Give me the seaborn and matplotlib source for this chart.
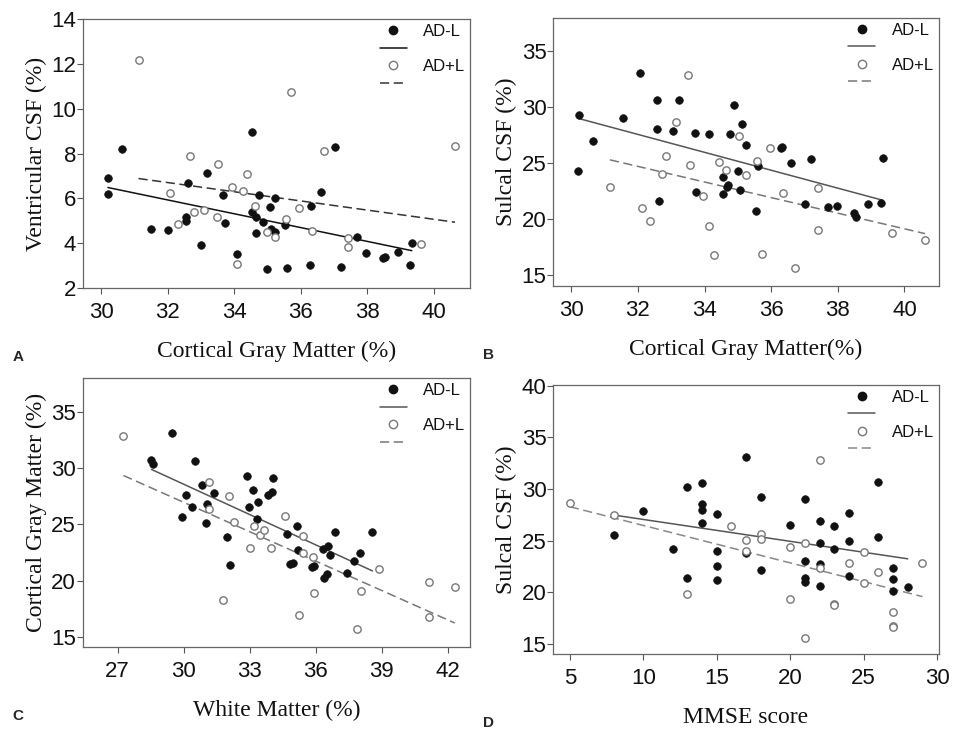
import seaborn as sns
import matplotlib.pyplot as plt
import matplotlib.lines as mlines
import pandas as pd
import numpy as np

# panel A: cortical gray matter vs ventricular CSF
a_neg_x = [30.2, 30.2, 30.63, 31.5, 32.02, 32.54, 32.54, 32.61, 33.0, 33.18, 33.66, 33.71, 34.09,
           34.53, 34.53, 34.64, 34.66, 34.74, 34.87, 34.99, 35.06, 35.11, 35.24, 35.24, 35.54, 35.58,
           36.28, 36.32, 36.6, 37.03, 37.2, 37.7, 37.97, 38.48, 38.53, 38.91, 39.28, 39.34]
a_neg_y = [6.89, 6.19, 8.2, 4.65, 4.57, 5.19, 5.0, 6.68, 3.9, 7.13, 6.13, 4.89, 3.52,
           8.96, 5.41, 5.16, 4.45, 6.16, 4.94, 2.85, 5.61, 4.65, 6.01, 4.49, 4.8, 2.91,
           3.02, 5.67, 6.28, 8.3, 2.94, 4.27, 3.54, 3.33, 3.39, 3.6, 3.02, 3.99]
a_pos_x = [31.12, 32.08, 32.31, 32.67, 32.8, 33.1, 33.47, 33.51, 33.92, 34.09, 34.25, 34.39,
           34.63, 34.99, 35.23, 35.56, 35.72, 35.94, 36.33, 36.71, 37.41, 37.43, 39.62, 40.64]
a_pos_y = [12.18, 6.26, 4.85, 7.87, 5.4, 5.5, 5.19, 7.51, 6.49, 3.09, 6.34, 7.08,
           5.67, 4.49, 4.27, 5.09, 10.73, 5.59, 4.55, 8.09, 4.24, 3.81, 3.97, 8.32]

# panel B: cortical gray matter vs sulcal CSF
b_neg_x = [30.22, 30.21, 30.66, 31.54, 32.07, 32.57, 32.57, 32.64, 33.04, 33.24, 33.71, 33.75,
           34.12, 34.54, 34.55, 34.66, 34.69, 34.75, 34.89, 35.0, 35.06, 35.12, 35.25, 35.53,
           35.59, 36.28, 36.33, 36.6, 37.03, 37.21, 37.7, 37.97, 38.48, 38.54, 38.92, 39.3, 39.35]
b_neg_y = [29.24, 24.25, 26.94, 29.03, 33.03, 30.61, 27.99, 21.6, 27.84, 30.64, 27.69, 22.37,
           27.6, 23.75, 22.19, 22.85, 23.03, 27.54, 30.22, 24.25, 22.61, 28.49, 26.64, 20.67,
           24.7, 26.37, 26.43, 25.0, 21.33, 25.36, 21.03, 21.18, 20.49, 20.16, 21.3, 21.39, 25.45]
b_pos_x = [31.16, 32.12, 32.35, 32.71, 32.84, 33.15, 33.51, 33.55, 33.95, 34.13, 34.28, 34.42,
           34.65, 35.02, 35.24, 35.57, 35.71, 35.95, 36.34, 36.72, 37.4, 37.42, 39.63, 40.62]
b_pos_y = [22.82, 20.94, 19.84, 23.99, 25.63, 28.64, 32.82, 24.79, 22.01, 19.39, 16.73, 25.06,
           24.37, 27.42, 23.9, 25.18, 16.85, 26.31, 22.34, 15.6, 22.79, 18.97, 18.76, 18.1]

# panel C: white matter vs cortical gray matter
c_neg_x = [28.53, 28.59, 29.47, 29.91, 30.12, 30.39, 30.53, 30.85, 31.02, 31.08, 31.38, 31.97,
           32.11, 32.89, 32.97, 33.14, 33.32, 33.36, 33.83, 34.02, 34.06, 34.7, 34.85, 34.95,
           35.17, 35.21, 35.83, 35.91, 36.33, 36.38, 36.52, 36.56, 36.65, 36.88, 37.44, 37.73,
           38.03, 38.58]
c_neg_y = [30.7, 30.32, 33.07, 25.61, 27.56, 26.56, 30.64, 28.51, 25.07, 26.79, 27.8, 23.83,
           21.4, 29.28, 26.5, 28.07, 25.46, 27.0, 27.62, 27.89, 29.1, 24.13, 21.46, 21.52,
           24.84, 22.7, 21.19, 21.28, 22.82, 20.19, 20.54, 23.09, 22.26, 24.33, 20.69, 21.7,
           22.47, 24.3]
c_pos_x = [27.26, 31.17, 31.14, 31.77, 32.06, 32.29, 33.03, 33.18, 33.47, 33.65, 33.95, 34.59,
           35.24, 35.41, 35.41, 35.86, 35.94, 37.89, 38.08, 38.88, 41.14, 41.14, 42.32]
c_pos_y = [32.87, 28.72, 26.38, 18.23, 27.5, 25.22, 22.91, 24.87, 24.04, 24.48, 22.91, 25.73,
           16.9, 23.95, 22.47, 22.11, 18.85, 15.65, 19.06, 21.01, 19.86, 16.72, 19.39]

# panel D: MMSE vs sulcal CSF
d_neg_x = [8, 10, 12, 13, 13, 14, 14, 14, 14, 15, 15, 15, 15, 17, 17, 18, 18, 20, 21, 21, 21, 21,
           22, 22, 22, 22, 23, 23, 24, 24, 24, 26, 26, 27, 27, 27, 28]
d_neg_y = [25.58, 27.84, 24.23, 30.23, 21.42, 30.61, 28.55, 28.0, 26.68, 27.61, 24.0, 22.58, 21.23,
           33.06, 23.77, 29.26, 22.16, 26.48, 29.03, 23.0, 21.35, 21.03, 26.94, 24.74, 22.74, 20.61,
           26.45, 24.23, 27.71, 25.0, 21.58, 30.65, 25.39, 22.35, 21.29, 20.13, 20.48]
d_pos_x = [5, 8, 13, 16, 17, 17, 18, 18, 20, 20, 21, 21, 22, 22, 23, 23, 24, 25, 25, 26, 27, 27, 27, 29]
d_pos_y = [28.68, 27.48, 19.81, 26.39, 25.1, 24.0, 25.65, 25.16, 24.35, 19.35, 24.81, 15.61,
           32.84, 22.32, 18.87, 18.77, 22.81, 23.87, 20.9, 21.97, 18.13, 16.74, 16.65, 22.81]

sns.set_style("ticks")
plt.rcParams['font.family'] = ['Liberation Sans', 'DejaVu Sans']

fig = plt.figure(figsize=(9.54, 7.31), dpi=100)

panels = [
    dict(letter="A", rect=[0.087, 0.606, 0.406, 0.368], xlim=(29.45, 41.1), ylim=(2, 14),
         xticks=np.arange(30, 41, 2), yticks=np.arange(2, 15, 2),
         xlabel="Cortical Gray Matter (%)", ylabel="Ventricular CSF (%)",
         data=(a_neg_x, a_neg_y, a_pos_x, a_pos_y), lc=("#111111", "#333333")),
    dict(letter="B", rect=[0.580, 0.609, 0.404, 0.367], xlim=(29.46, 41.03), ylim=(14, 38),
         xticks=np.arange(30, 41, 2), yticks=np.arange(15, 36, 5),
         xlabel="Cortical Gray Matter(%)", ylabel="Sulcal CSF (%)",
         data=(b_neg_x, b_neg_y, b_pos_x, b_pos_y), lc=("#555555", "#777777")),
    dict(letter="C", rect=[0.087, 0.115, 0.406, 0.368], xlim=(25.42, 43.03), ylim=(14.1, 38),
         xticks=np.arange(27, 43, 3), yticks=np.arange(15, 36, 5),
         xlabel="White Matter (%)", ylabel="Cortical Gray Matter (%)",
         data=(c_neg_x, c_neg_y, c_pos_x, c_pos_y), lc=("#555555", "#777777")),
    dict(letter="D", rect=[0.580, 0.105, 0.404, 0.369], xlim=(3.87, 30.11), ylim=(14, 40.1),
         xticks=np.arange(5, 31, 5), yticks=np.arange(15, 41, 5),
         xlabel="MMSE score", ylabel="Sulcal CSF (%)",
         data=(d_neg_x, d_neg_y, d_pos_x, d_pos_y), lc=("#555555", "#888888")),
]

for p in panels:
    ax = fig.add_axes(p["rect"])
    nx, ny, px, py = p["data"]
    neg = pd.DataFrame({"x": nx, "y": ny})
    pos = pd.DataFrame({"x": px, "y": py})
    solid_c, dash_c = p["lc"]

    sns.regplot(data=neg, x="x", y="y", ax=ax, scatter=False, ci=None,
                line_kws=dict(color=solid_c, lw=1.1))
    sns.regplot(data=pos, x="x", y="y", ax=ax, scatter=False, ci=None,
                line_kws=dict(color=dash_c, lw=1.1, dashes=(6, 3)))
    sns.scatterplot(data=neg, x="x", y="y", ax=ax, s=30, color="#111111",
                    edgecolor="#111111", linewidth=0.5, zorder=3)
    sns.scatterplot(data=pos, x="x", y="y", ax=ax, s=28, facecolor="white",
                    edgecolor="#777777", linewidth=1.0, zorder=3)

    ax.set_xlim(*p["xlim"])
    ax.set_ylim(*p["ylim"])
    ax.set_xticks(p["xticks"])
    ax.set_yticks(p["yticks"])
    ax.tick_params(labelsize=16, length=4, width=0.8, color="#555555", direction="out",
                   labelcolor="#111111")
    ax.tick_params(axis="x", pad=6)
    ax.tick_params(axis="y", pad=1)
    for s in ax.spines.values():
        s.set_color("#666666")
        s.set_linewidth(0.9)
    ax.set_xlabel(p["xlabel"], family="Liberation Serif", fontsize=17, labelpad=13,
                  color="#111111")
    ax.set_ylabel(p["ylabel"], family="Liberation Serif", fontsize=17, labelpad=3,
                  color="#111111")

    h = [mlines.Line2D([], [], ls="none", marker="o", ms=6, color="#111111"),
         mlines.Line2D([], [], color=solid_c, lw=1.1),
         mlines.Line2D([], [], ls="none", marker="o", ms=6, mfc="white", mec="#777777"),
         mlines.Line2D([], [], color=dash_c, lw=1.1, dashes=(6, 3))]
    ax.legend(h, ["AD-L", " ", "AD+L", " "], loc="upper right", frameon=False,
              fontsize=12, labelspacing=0.15, handlelength=1.6, handletextpad=1.0,
              borderaxespad=0.1, borderpad=0.2, labelcolor="#111111")

    x0 = p["rect"][0]
    fig.text(x0 - 0.074, p["rect"][1] - 0.1, p["letter"], fontsize=11, fontweight="bold")

fig.savefig("out.png", dpi=100)
